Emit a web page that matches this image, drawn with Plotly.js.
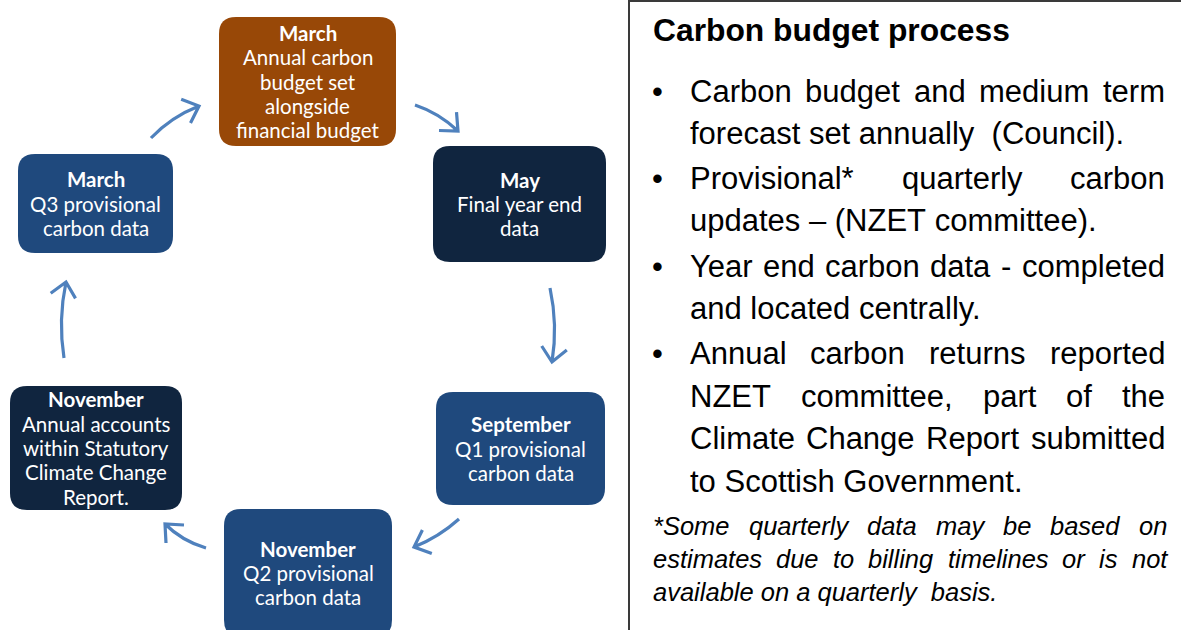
<!DOCTYPE html>
<html>
<head>
<meta charset="utf-8">
<script src="https://cdn.plot.ly/plotly-3.0.1.min.js"></script>
<style>html,body{margin:0;padding:0;background:#fff;}#chart{width:1181px;height:630px;}</style>
</head>
<body>
<div id="chart"></div>
<script>
// ---------- content ----------
const boxMonths = ["March", "May", "September", "November", "November", "March"];
const boxLines = [
  ["Annual carbon", "budget set", "alongside", "financial budget"],
  ["Final year end", "data"],
  ["Q1 provisional", "carbon data"],
  ["Q2 provisional", "carbon data"],
  ["Annual accounts", "within Statutory", "Climate Change", "Report."],
  ["Q3 provisional", "carbon data"]
];
const panelTitle = "Carbon budget process";
const bulletParas = [
  ["Carbon budget and medium term", "forecast set annually  (Council)."],
  ["Provisional*  quarterly  carbon", "updates \u2013 (NZET committee)."],
  ["Year end carbon data - completed", "and located centrally."],
  ["Annual carbon returns reported", "NZET committee, part of the", "Climate Change Report submitted", "to Scottish Government."]
];
const footnoteLines = [
  "*Some quarterly data may be based on",
  "estimates due to billing timelines or is not",
  "available on a quarterly  basis."
];

// ---------- layout / style ----------
const boxGeom = [[219,17,396,146],[433,146,606,262],[436,392,605,505],[224,509,392,637],[10,386,182,510],[18,154,173,253]];
const boxColor = ["#984807","#10253F","#1F497D","#1F497D","#10253F","#1F497D"];
const arrowGeom = [
  [151,138, 171,117, 199,106],
  [415,105, 439,113, 458,131],
  [550,288, 558,325, 552,362],
  [459,519, 439,537, 414,547],
  [206,548, 182,541, 165,524],
  [64,358, 58,320, 66,282]
];
const arrowColor = "#4F81BD";
const boxFont = "Lato, 'Open Sans', sans-serif";
const bodyFont = "'Liberation Sans', Arial, sans-serif";
const bodySize = 31, footSize = 25.5, boxSize = 20.5, titleSize = 31.8;

const shapes = [];
const annotations = [];

function roundRect(x0,y0,x1,y1,r){
  return `M${x0+r},${y0} H${x1-r} Q${x1},${y0} ${x1},${y0+r} V${y1-r} Q${x1},${y1} ${x1-r},${y1} H${x0+r} Q${x0},${y1} ${x0},${y1-r} V${y0+r} Q${x0},${y0} ${x0+r},${y0} Z`;
}

// boxes
boxGeom.forEach((g, i) => {
  shapes.push({type:"path", xref:"x", yref:"y", path: roundRect(g[0],g[1],g[2],g[3],17),
    fillcolor: boxColor[i], line:{width:0}, layer:"below"});
  const lines = [{t:"<b>"+boxMonths[i]+"</b>"}].concat(boxLines[i].map(t=>({t})));
  const n = lines.length, lh = 24.3;
  const cx = (g[0]+g[2])/2, cy = (g[1]+g[3])/2;
  lines.forEach((l, k) => {
    annotations.push({x: cx, y: cy + (k-(n-1)/2)*lh, xref:"x", yref:"y", text: l.t, showarrow:false,
      xanchor:"center", yanchor:"middle", font:{family: boxFont, size: boxSize, color:"#ffffff"}});
  });
});

// arrows
arrowGeom.forEach(a => {
  const [x0,y0,cx,cy,x1,y1] = a;
  let tx = x1-cx, ty = y1-cy; const L = Math.hypot(tx,ty); tx/=L; ty/=L;
  const bx = -tx, by = -ty, ang = 42*Math.PI/180, len = 19;
  const r1x = bx*Math.cos(ang) - by*Math.sin(ang), r1y = bx*Math.sin(ang) + by*Math.cos(ang);
  const r2x = bx*Math.cos(-ang) - by*Math.sin(-ang), r2y = bx*Math.sin(-ang) + by*Math.cos(-ang);
  const p = `M${x0},${y0} Q${cx},${cy} ${x1},${y1} M${(x1+r1x*len).toFixed(1)},${(y1+r1y*len).toFixed(1)} L${x1},${y1} L${(x1+r2x*len).toFixed(1)},${(y1+r2y*len).toFixed(1)}`;
  shapes.push({type:"path", xref:"x", yref:"y", path:p, line:{color:arrowColor, width:3.2}});
});

// right panel frame
shapes.push({type:"rect", xref:"x", yref:"y", x0:629, y0:1, x1:1200, y1:650, line:{color:"#3a3a3a", width:2}});

// text measuring for justification
const cv = document.createElement("canvas").getContext("2d");
function measure(t, size, italic){
  cv.font = (italic?"italic ":"") + size + "px 'Liberation Sans', Arial, sans-serif";
  return cv.measureText(t).width;
}
function placeLine(text, y, x0, x1, size, italic, justify){
  const font = {family: bodyFont, size: size, color:"#000000"};
  if (!justify){
    const t = text.replace(/ /g,"&nbsp;");
    annotations.push({x:x0, y:y, xref:"x", yref:"y", text: italic?"<i>"+t+"</i>":t, showarrow:false,
      xanchor:"left", yanchor:"middle", borderpad:0, font});
    return;
  }
  const words = text.split(/\s+/).filter(w=>w.length);
  const ws = words.map(w=>measure(w,size,italic));
  const total = ws.reduce((s,v)=>s+v,0);
  const gap = (x1-x0-total)/(words.length-1);
  let x = x0;
  words.forEach((w,i)=>{
    annotations.push({x:x, y:y, xref:"x", yref:"y", text: italic?"<i>"+w+"</i>":w, showarrow:false,
      xanchor:"left", yanchor:"middle", borderpad:0, font});
    x += ws[i] + gap;
  });
}

// title
annotations.push({x:652, y:30, xref:"x", yref:"y", text:"<b>"+panelTitle+"</b>", showarrow:false,
  xanchor:"left", yanchor:"middle", borderpad:0, font:{family: bodyFont, size: titleSize, color:"#000000"}});

// bullets
const lineYs = [[91,133],[178,220],[266,308],[353,396,438,481]];
bulletParas.forEach((para, pi) => {
  annotations.push({x:657, y:lineYs[pi][0], xref:"x", yref:"y", text:"\u2022", showarrow:false,
    xanchor:"center", yanchor:"middle", borderpad:0, font:{family: bodyFont, size: bodySize, color:"#000000"}});
  para.forEach((line, li) => {
    placeLine(line, lineYs[pi][li], 689, 1164, bodySize, false, li !== para.length-1);
  });
});

// footnote
const footYs = [526, 559, 592];
footnoteLines.forEach((line, i) => {
  placeLine(line, footYs[i], 652, 1166, footSize, true, i < footnoteLines.length-1);
});

const layout = {
  width:1181, height:630, margin:{l:0,r:0,t:0,b:0},
  paper_bgcolor:"#ffffff", plot_bgcolor:"#ffffff",
  xaxis:{range:[0,1181], visible:false, fixedrange:true},
  yaxis:{range:[630,0], visible:false, fixedrange:true},
  showlegend:false, shapes, annotations
};
Plotly.newPlot("chart", [], layout, {staticPlot:true, displayModeBar:false});
</script>
</body>
</html>
